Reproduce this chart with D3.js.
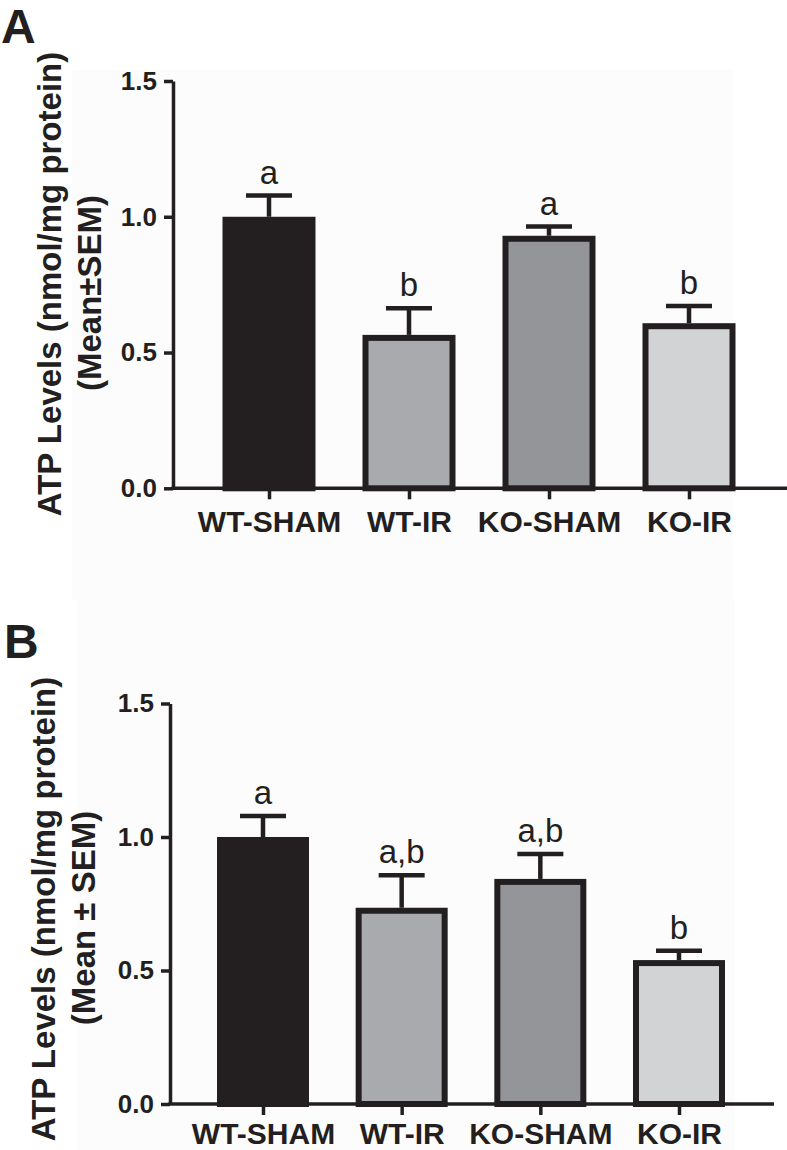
<!DOCTYPE html>
<html>
<head>
<meta charset="utf-8">
<script src="https://cdn.jsdelivr.net/npm/d3@7"></script>
<style>
body{margin:0;background:#fff;}
svg{display:block;}
text{font-family:"Liberation Sans",Arial,Helvetica,sans-serif;fill:#231f20;}
</style>
</head>
<body>
<svg width="787" height="1150"></svg>
<script>
// dane
var grupy = ["WT-SHAM", "WT-IR", "KO-SHAM", "KO-IR"];
var kolory = ["#231f20", "#a9aaad", "#939598", "#d2d3d5"];
var ticki = [0, 0.5, 1.0, 1.5];

var sredniaA = [1.00, 0.565, 0.930, 0.608];
var bladA = [0.078, 0.098, 0.034, 0.063];
var literyA = ["a", "b", "a", "b"];

var sredniaB = [1.00, 0.735, 0.843, 0.539];
var bladB = [0.079, 0.122, 0.093, 0.035];
var literyB = ["a", "a,b", "a,b", "b"];

var ciemny = "#231f20";
var svg = d3.select("svg");

function panel(p){
	var g = svg.append("g");
	//delikatne tlo pola wykresu
	g.append("rect")
		.attr("x", p.tlo[0]).attr("y", p.tlo[1])
		.attr("width", p.tlo[2]).attr("height", p.tlo[3])
		.style("fill", "#fcfcfc");

	var y = d3.scaleLinear().domain([0, 1.5]).range([p.y0, p.y1]);
	var x = d3.scalePoint().domain(grupy).range([p.xs0, p.xs1]);

	// slupki - ramka rysowana do srodka
	for(let i=0; i<grupy.length; i++){
		var cx = x(grupy[i]);
		var top = y(p.srednia[i]);
		var cap = y(p.srednia[i] + p.blad[i]);
		g.append("line")//blad pionowy
			.attr("x1", cx).attr("x2", cx)
			.attr("y1", top).attr("y2", cap)
			.style("stroke", ciemny).style("stroke-width", "4.5px");
		g.append("line")//kreska bledu
			.attr("x1", cx - 23).attr("x2", cx + 23)
			.attr("y1", cap).attr("y2", cap)
			.style("stroke", ciemny).style("stroke-width", "4.5px");
		g.append("rect")
			.attr("x", cx - p.szer/2 + 3)
			.attr("y", top + 3)
			.attr("width", p.szer - 6)
			.attr("height", y(0) - top - 3)
			.style("fill", kolory[i])
			.style("stroke", ciemny)
			.style("stroke-width", "6px");
		g.append("text")//litery istotnosci
			.attr("x", cx)
			.attr("y", cap - 12)
			.attr("text-anchor", "middle")
			.attr("font-size", 33)
			.text(p.litery[i]);
	}

	// os Y
	var osY = g.append("g")
		.attr("transform", "translate(" + p.ax + ",0)")
		.call(d3.axisLeft(y).tickValues(ticki).tickSize(9).tickSizeOuter(0).tickPadding(7).tickFormat(d3.format(".1f")));
	osY.select(".domain").style("stroke", ciemny).style("stroke-width", "3.5px");
	osY.selectAll(".tick line").style("stroke", ciemny).style("stroke-width", "3.5px");
	osY.selectAll(".tick text").attr("font-size", 26).attr("font-weight", "bold").style("fill", ciemny)
		.attr("font-family", "Liberation Sans, Arial, sans-serif");

	// os X
	var osX = g.append("g")
		.attr("transform", "translate(0," + y(0) + ")")
		.call(d3.axisBottom(x).tickSize(11).tickPadding(0));
	osX.select(".domain").remove();
	osX.selectAll(".tick line").style("stroke", ciemny).style("stroke-width", "3.5px");
	osX.selectAll(".tick text").attr("font-size", 30).attr("font-weight", "bold").style("fill", ciemny)
		.attr("font-family", "Liberation Sans, Arial, sans-serif")
		.attr("dy", 0).attr("y", p.podpis);
	g.append("line")
		.attr("x1", p.ax - 1.75).attr("x2", p.xkoniec)
		.attr("y1", y(0)).attr("y2", y(0))
		.style("stroke", ciemny).style("stroke-width", "3.5px");

	// tytul osi Y
	g.append("text")
		.attr("transform", "translate(" + p.t1[0] + "," + p.t1[1] + ") rotate(-90)")
		.attr("text-anchor", "middle").attr("font-size", 33).attr("font-weight", "bold")
		.text("ATP Levels (nmol/mg protein)");
	g.append("text")
		.attr("transform", "translate(" + p.t2[0] + "," + p.t2[1] + ") rotate(-90)")
		.attr("text-anchor", "middle").attr("font-size", 33).attr("font-weight", "bold")
		.text(p.linia2);

	// litera panelu
	g.append("text")
		.attr("x", p.lit[0]).attr("y", p.lit[1])
		.attr("font-size", 48).attr("font-weight", "bold")
		.text(p.nazwa);
}

panel({nazwa:"A", lit:[1,43], tlo:[72,70,661,530],
	y0:488.3, y1:81, ax:173, xs0:269, xs1:689, szer:93, xkoniec:787, podpis:44,
	srednia:sredniaA, blad:bladA, litery:literyA,
	t1:[61,284], t2:[101,293], linia2:"(Mean\u00B1SEM)"});

panel({nazwa:"B", lit:[4,658], tlo:[77,600,658,550],
	y0:1104, y1:703.5, ax:170, xs0:263, xs1:679, szer:92, xkoniec:774, podpis:40,
	srednia:sredniaB, blad:bladB, litery:literyB,
	t1:[55,909], t2:[95,918], linia2:"(Mean \u00B1 SEM)"});
</script>
</body>
</html>
